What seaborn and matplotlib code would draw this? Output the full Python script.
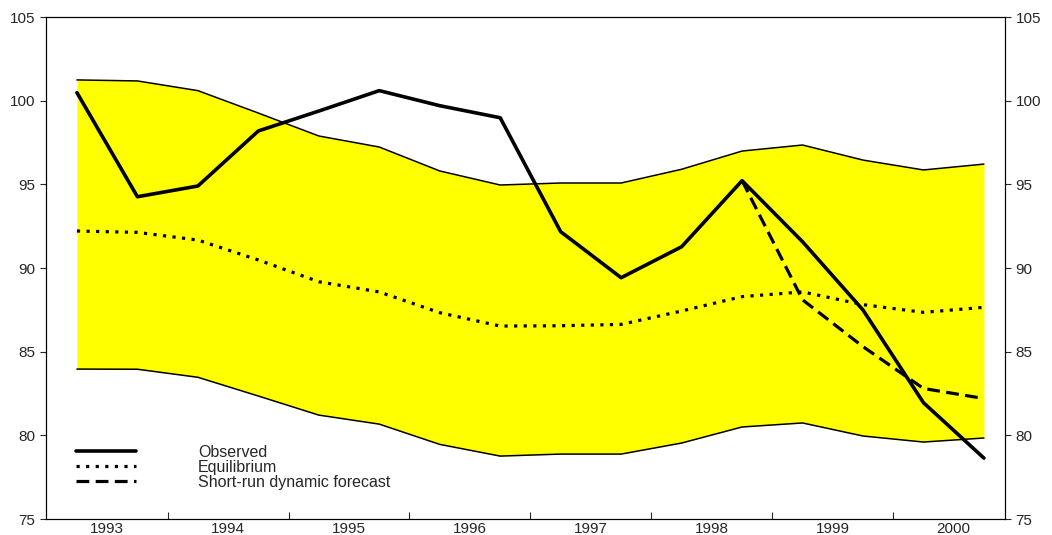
import matplotlib
matplotlib.use("Agg")
import matplotlib.pyplot as plt
import numpy as np
import pandas as pd
import seaborn as sns
from matplotlib.ticker import FixedLocator, NullFormatter, FixedFormatter

# Данные (полугодовые точки)
dates = [1993.25, 1993.75, 1994.25, 1994.75, 1995.25, 1995.75, 1996.25, 1996.75,
         1997.25, 1997.75, 1998.25, 1998.75, 1999.25, 1999.75, 2000.25, 2000.75]
observed = [100.48, 94.26, 94.90, 98.19, 99.38, 100.60, 99.70, 98.98,
            92.17, 89.42, 91.27, 95.22, 91.57, 87.49, 81.95, 78.64]
equilibrium = [92.21, 92.13, 91.67, 90.48, 89.18, 88.57, 87.33, 86.53,
               86.55, 86.63, 87.43, 88.29, 88.57, 87.81, 87.35, 87.65]
upper_band = [101.24, 101.18, 100.60, 99.26, 97.89, 97.23, 95.80, 94.96,
              95.08, 95.08, 95.90, 96.99, 97.35, 96.45, 95.86, 96.21]
lower_band = [83.96, 83.95, 83.47, 82.35, 81.21, 80.67, 79.46, 78.76,
              78.88, 78.88, 79.54, 80.50, 80.74, 79.96, 79.60, 79.84]
forecast_dates = [1998.75, 1999.25, 1999.75, 2000.25, 2000.75]
forecast = [95.22, 88.10, 85.30, 82.80, 82.20]

year_labels = ["1993", "1994", "1995", "1996", "1997", "1998", "1999", "2000"]
year_centers = [1993.5, 1994.5, 1995.5, 1996.5, 1997.5, 1998.5, 1999.5, 2000.5]
year_bounds = [1994, 1995, 1996, 1997, 1998, 1999, 2000]
y_ticks = [75, 80, 85, 90, 95, 100, 105]

sns.set_style("ticks")
plt.rcParams["font.family"] = ["Liberation Sans", "DejaVu Sans"]
plt.rcParams["font.size"] = 11

df = pd.DataFrame({"date": dates, "observed": observed, "equilibrium": equilibrium,
                   "upper": upper_band, "lower": lower_band})
df_fc = pd.DataFrame({"date": forecast_dates, "forecast": forecast})

fig = plt.figure(figsize=(10.52, 5.35), dpi=100)
ax = fig.add_axes([0.0437, 0.0299, 0.9116, 0.9383])

# Полоса
ax.fill_between(df["date"], df["lower"], df["upper"], color="#FFFF00", lw=0, zorder=1)
sns.lineplot(data=df, x="date", y="upper", ax=ax, color="black", lw=1.1, zorder=2)
sns.lineplot(data=df, x="date", y="lower", ax=ax, color="black", lw=1.1, zorder=2)

# Линии
sns.lineplot(data=df, x="date", y="equilibrium", ax=ax, color="black", lw=2.3,
             linestyle=(0, (1, 2)), label="Equilibrium", zorder=3)
sns.lineplot(data=df_fc, x="date", y="forecast", ax=ax, color="black", lw=2.3,
             linestyle=(0, (4, 2)), label="Short-run dynamic forecast", zorder=3)
sns.lineplot(data=df, x="date", y="observed", ax=ax, color="black", lw=2.6,
             label="Observed", zorder=4)

ax.set_xlim(1992.994, 2000.924)
ax.set_ylim(75, 105)
ax.set_xlabel("")
ax.set_ylabel("")

ax.xaxis.set_major_locator(FixedLocator(year_bounds))
ax.xaxis.set_major_formatter(NullFormatter())
ax.xaxis.set_minor_locator(FixedLocator(year_centers))
ax.xaxis.set_minor_formatter(FixedFormatter(year_labels))
ax.tick_params(axis="x", which="major", direction="in", length=5, width=0.8)
ax.tick_params(axis="x", which="minor", length=0, pad=2, labelsize=11)

ax.set_yticks(y_ticks)
ax.tick_params(axis="y", direction="out", length=4, width=0.8, labelsize=11)

ax2 = ax.twinx()
ax2.set_ylim(75, 105)
ax2.set_yticks(y_ticks)
ax2.tick_params(axis="y", direction="out", length=4, width=0.8, labelsize=11)

for a in (ax, ax2):
    for s in a.spines.values():
        s.set_linewidth(0.8)
        s.set_color("black")

handles, labels = ax.get_legend_handles_labels()
order = [labels.index("Observed"), labels.index("Equilibrium"),
         labels.index("Short-run dynamic forecast")]
ax.legend([handles[i] for i in order], [labels[i] for i in order],
          loc="upper left", bbox_to_anchor=(0.031, 0.148), frameon=False,
          fontsize=11.5, handlelength=3.75, handletextpad=3.9, labelspacing=0.0,
          borderpad=0, borderaxespad=0)

fig.savefig("out.png", dpi=100)
